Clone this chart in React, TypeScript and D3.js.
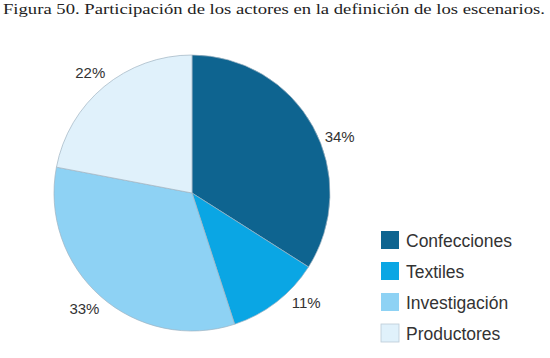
import { arc, pie, scaleOrdinal } from 'd3'

const width = 550
const height = 358

const categories = ['Confecciones', 'Textiles', 'Investigación', 'Productores']
const values = [34, 11, 33, 22]
const labels = ['34%', '11%', '33%', '22%']
const colors = ['#0e6490', '#0aa6e4', '#8ed2f4', '#e0f1fb']

const title = 'Figura 50. Participación de los actores en la definición de los escenarios.'

// layout
const cx = 192
const cy = 193
const radius = 138
const labelRadius = 158
// excel moves the right-hand labels around a little
const labelNudge = [8, -8.5, 1.5, -0.5]

const legendX = 381
const legendY = 231
const legendStep = 31

function App() {
  const color = scaleOrdinal<string, string>().domain(categories).range(colors)

  const slices = pie<number>().sort(null)(values)

  const sliceArc = arc<any>().innerRadius(0).outerRadius(radius)
  const labelArc = arc<any>().innerRadius(labelRadius).outerRadius(labelRadius)

  return (
    <div style={{ position: 'absolute', left: 0, top: 0 }}>
      <svg width={width} height={height} style={{ display: 'block', background: '#fff' }}>
        <text
          x={3}
          y={14}
          fontFamily="'Liberation Serif', 'DejaVu Serif', serif"
          fontSize={15.5}
          fill="#222"
          textLength={542}
          lengthAdjust="spacingAndGlyphs"
        >
          {title}
        </text>

        <g transform={`translate(${cx},${cy})`}>
          {slices.map((s, i) => (
            <path
              key={categories[i]}
              d={sliceArc(s) as string}
              fill={color(categories[i])}
              stroke="#9fb3c2"
              strokeWidth={0.7}
            />
          ))}
          {slices.map((s, i) => {
            const shift = (labelNudge[i] * Math.PI) / 180
            const mid = (s.startAngle + s.endAngle) / 2 + shift
            const [lx, ly] = labelArc.centroid({ startAngle: mid, endAngle: mid })
            return (
              <text
                key={labels[i]}
                x={lx}
                y={ly}
                textAnchor="middle"
                dominantBaseline="central"
                fontFamily="'Liberation Sans', Arial, sans-serif"
                fontSize={15}
                fill="#333"
              >
                {labels[i]}
              </text>
            )
          })}
        </g>

        <g fontFamily="'Liberation Sans', Arial, sans-serif" fontSize={17.5} fill="#333">
          {categories.map((c, i) => (
            <g key={c} transform={`translate(${legendX},${legendY + i * legendStep})`}>
              <rect
                width={18}
                height={18}
                fill={color(c)}
                stroke={i === 3 ? '#bccbd6' : 'none'}
                strokeWidth={0.8}
              />
              <text x={25} y={16}>
                {c}
              </text>
            </g>
          ))}
        </g>
      </svg>
    </div>
  )
}

export default App
